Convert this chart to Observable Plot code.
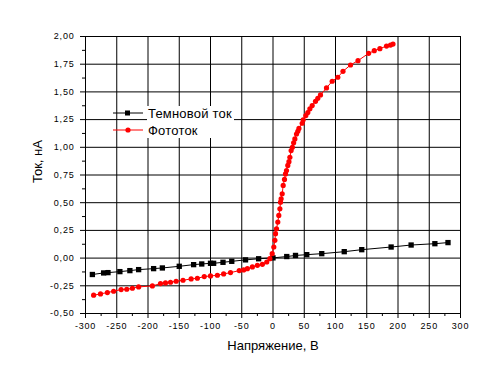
<!DOCTYPE html>
<html>
<head>
<meta charset="utf-8">
<script src="https://cdn.jsdelivr.net/npm/d3@7"></script>
<script src="https://cdn.jsdelivr.net/npm/@observablehq/plot@0.6"></script>
<style>
  html, body { margin: 0; padding: 0; background: #fff; }
  #chart svg { display: block; }
  #chart g[aria-label$="tick label"] text { letter-spacing: 0.8px; }
</style>
</head>
<body>
<div id="chart"></div>
<script>
// ---- data ----
const seriesNames = ["Темновой ток", "Фототок"];
const xLabel = "Напряжение, В";
const yLabel = "Ток, нА";

const xTicks = [-300, -250, -200, -150, -100, -50, 0, 50, 100, 150, 200, 250, 300];
const xMinor = [-275, -225, -175, -125, -75, -25, 25, 75, 125, 175, 225, 275];
const yTicks = [-0.5, -0.25, 0, 0.25, 0.5, 0.75, 1.0, 1.25, 1.5, 1.75, 2.0];
const yMinor = [-0.375, -0.125, 0.125, 0.375, 0.625, 0.875, 1.125, 1.375, 1.625, 1.875];

const darkV = [-289, -271, -264, -245, -229, -215, -191, -177, -150, -127, -114, -100, -95, -80, -66, -44, -23, 0, 22, 36, 54, 78, 114, 142, 189, 221, 259, 280];
const darkI = [-0.148, -0.134, -0.131, -0.122, -0.113, -0.104, -0.095, -0.089, -0.074, -0.059, -0.053, -0.047, -0.047, -0.038, -0.029, -0.016, -0.006, 0.002, 0.014, 0.024, 0.031, 0.040, 0.058, 0.076, 0.100, 0.118, 0.130, 0.140];

const photoV = [-287, -276, -265, -255, -243, -234, -225, -215, -193, -180, -172, -164, -155, -144, -131, -121, -110, -100, -89, -79, -68, -54, -47, -41, -33, -25, -17, -10, -5, -1.3, 1.3, 3, 4, 5.6, 7.7, 9.3, 11, 12, 13, 14.7, 16.3, 18.4, 20, 21.6, 23.7, 25.5, 27, 29, 31, 33, 35, 37.6, 39.7, 41.5, 46.7, 48.3, 52.5, 55.7, 59, 62.7, 68, 71.7, 76, 85.6, 94.7, 103.7, 112, 124, 136, 153, 162, 171, 181.6, 188, 192];
const photoI = [-0.335, -0.323, -0.311, -0.299, -0.284, -0.281, -0.272, -0.260, -0.251, -0.230, -0.224, -0.218, -0.209, -0.200, -0.188, -0.182, -0.167, -0.161, -0.155, -0.143, -0.131, -0.113, -0.107, -0.095, -0.080, -0.065, -0.056, -0.035, -0.005, 0.040, 0.100, 0.160, 0.220, 0.265, 0.325, 0.385, 0.445, 0.505, 0.535, 0.580, 0.656, 0.710, 0.760, 0.790, 0.836, 0.870, 0.910, 0.970, 1.000, 1.040, 1.076, 1.120, 1.145, 1.170, 1.217, 1.248, 1.286, 1.313, 1.347, 1.377, 1.415, 1.442, 1.473, 1.536, 1.596, 1.632, 1.686, 1.743, 1.782, 1.848, 1.872, 1.890, 1.914, 1.923, 1.932];

const dark = darkV.map((v, i) => ({v, i: darkI[i]}));
const photo = photoV.map((v, i) => ({v, i: photoI[i]}));

const colors = ["#000000", "#ff0000"];
const font = "'Liberation Sans', Arial, sans-serif";

const chart = Plot.plot({
  width: 500,
  height: 384,
  marginLeft: 85,
  marginRight: 40,
  marginTop: 36,
  marginBottom: 71,
  style: {fontFamily: font, background: "#fff", color: "#000"},
  x: {domain: [-300, 300]},
  y: {domain: [-0.5, 2.0]},
  marks: [
    Plot.gridX(xTicks, {stroke: "#000", strokeOpacity: 1, strokeWidth: 1}),
    Plot.gridY(yTicks, {stroke: "#000", strokeOpacity: 1, strokeWidth: 1}),
    Plot.frame({stroke: "#000", strokeWidth: 1}),
    Plot.axisX(xMinor, {tickSize: 3, tickFormat: () => "", label: null}),
    Plot.axisX(xTicks, {tickSize: 5, tickPadding: 4, fontSize: 9, tickFormat: d => String(d), label: null}),
    Plot.axisY(yMinor, {tickSize: 3, tickFormat: () => "", label: null}),
    Plot.axisY(yTicks, {tickSize: 5, tickPadding: 6, fontSize: 9, tickFormat: d => d.toFixed(2).replace(".", ","), label: null}),
    Plot.line(dark, {x: "v", y: "i", stroke: colors[0], strokeWidth: 1}),
    Plot.dot(dark, {x: "v", y: "i", symbol: "square", fill: colors[0], r: 3}),
    Plot.line(photo, {x: "v", y: "i", stroke: colors[1], strokeWidth: 1}),
    Plot.dot(photo, {x: "v", y: "i", symbol: "circle", fill: colors[1], r: 2.6}),
    Plot.text([yLabel], {frameAnchor: "left", dx: -48, dy: 8, rotate: -90, fontSize: 13, fill: "#000"}),
    Plot.text([xLabel], {frameAnchor: "bottom", dy: 36, fontSize: 13, fill: "#000"})
  ]
});

// legend
const svg = d3.select(chart);
const lg = svg.append("g").attr("font-family", font).attr("font-size", 13);
const lx = 113, ly = 113, step = 17;
lg.append("rect").attr("x", 147).attr("y", ly - 7).attr("width", 87).attr("height", 32).attr("fill", "#fff");
seriesNames.forEach((name, k) => {
  const y = ly + k * step;
  lg.append("line").attr("x1", lx).attr("x2", lx + 30).attr("y1", y).attr("y2", y).attr("stroke", colors[k]);
  if (k === 0) {
    lg.append("rect").attr("x", lx + 12).attr("y", y - 2.5).attr("width", 5).attr("height", 5).attr("fill", colors[k]);
  } else {
    lg.append("circle").attr("cx", lx + 15).attr("cy", y).attr("r", 2.6).attr("fill", colors[k]);
  }
  lg.append("text").attr("x", lx + 35).attr("y", y).attr("dy", "0.35em")
    .attr("text-anchor", "start").attr("fill", "#000")
    .style("letter-spacing", "0.2px").text(name);
});

document.getElementById("chart").appendChild(chart);
</script>
</body>
</html>
